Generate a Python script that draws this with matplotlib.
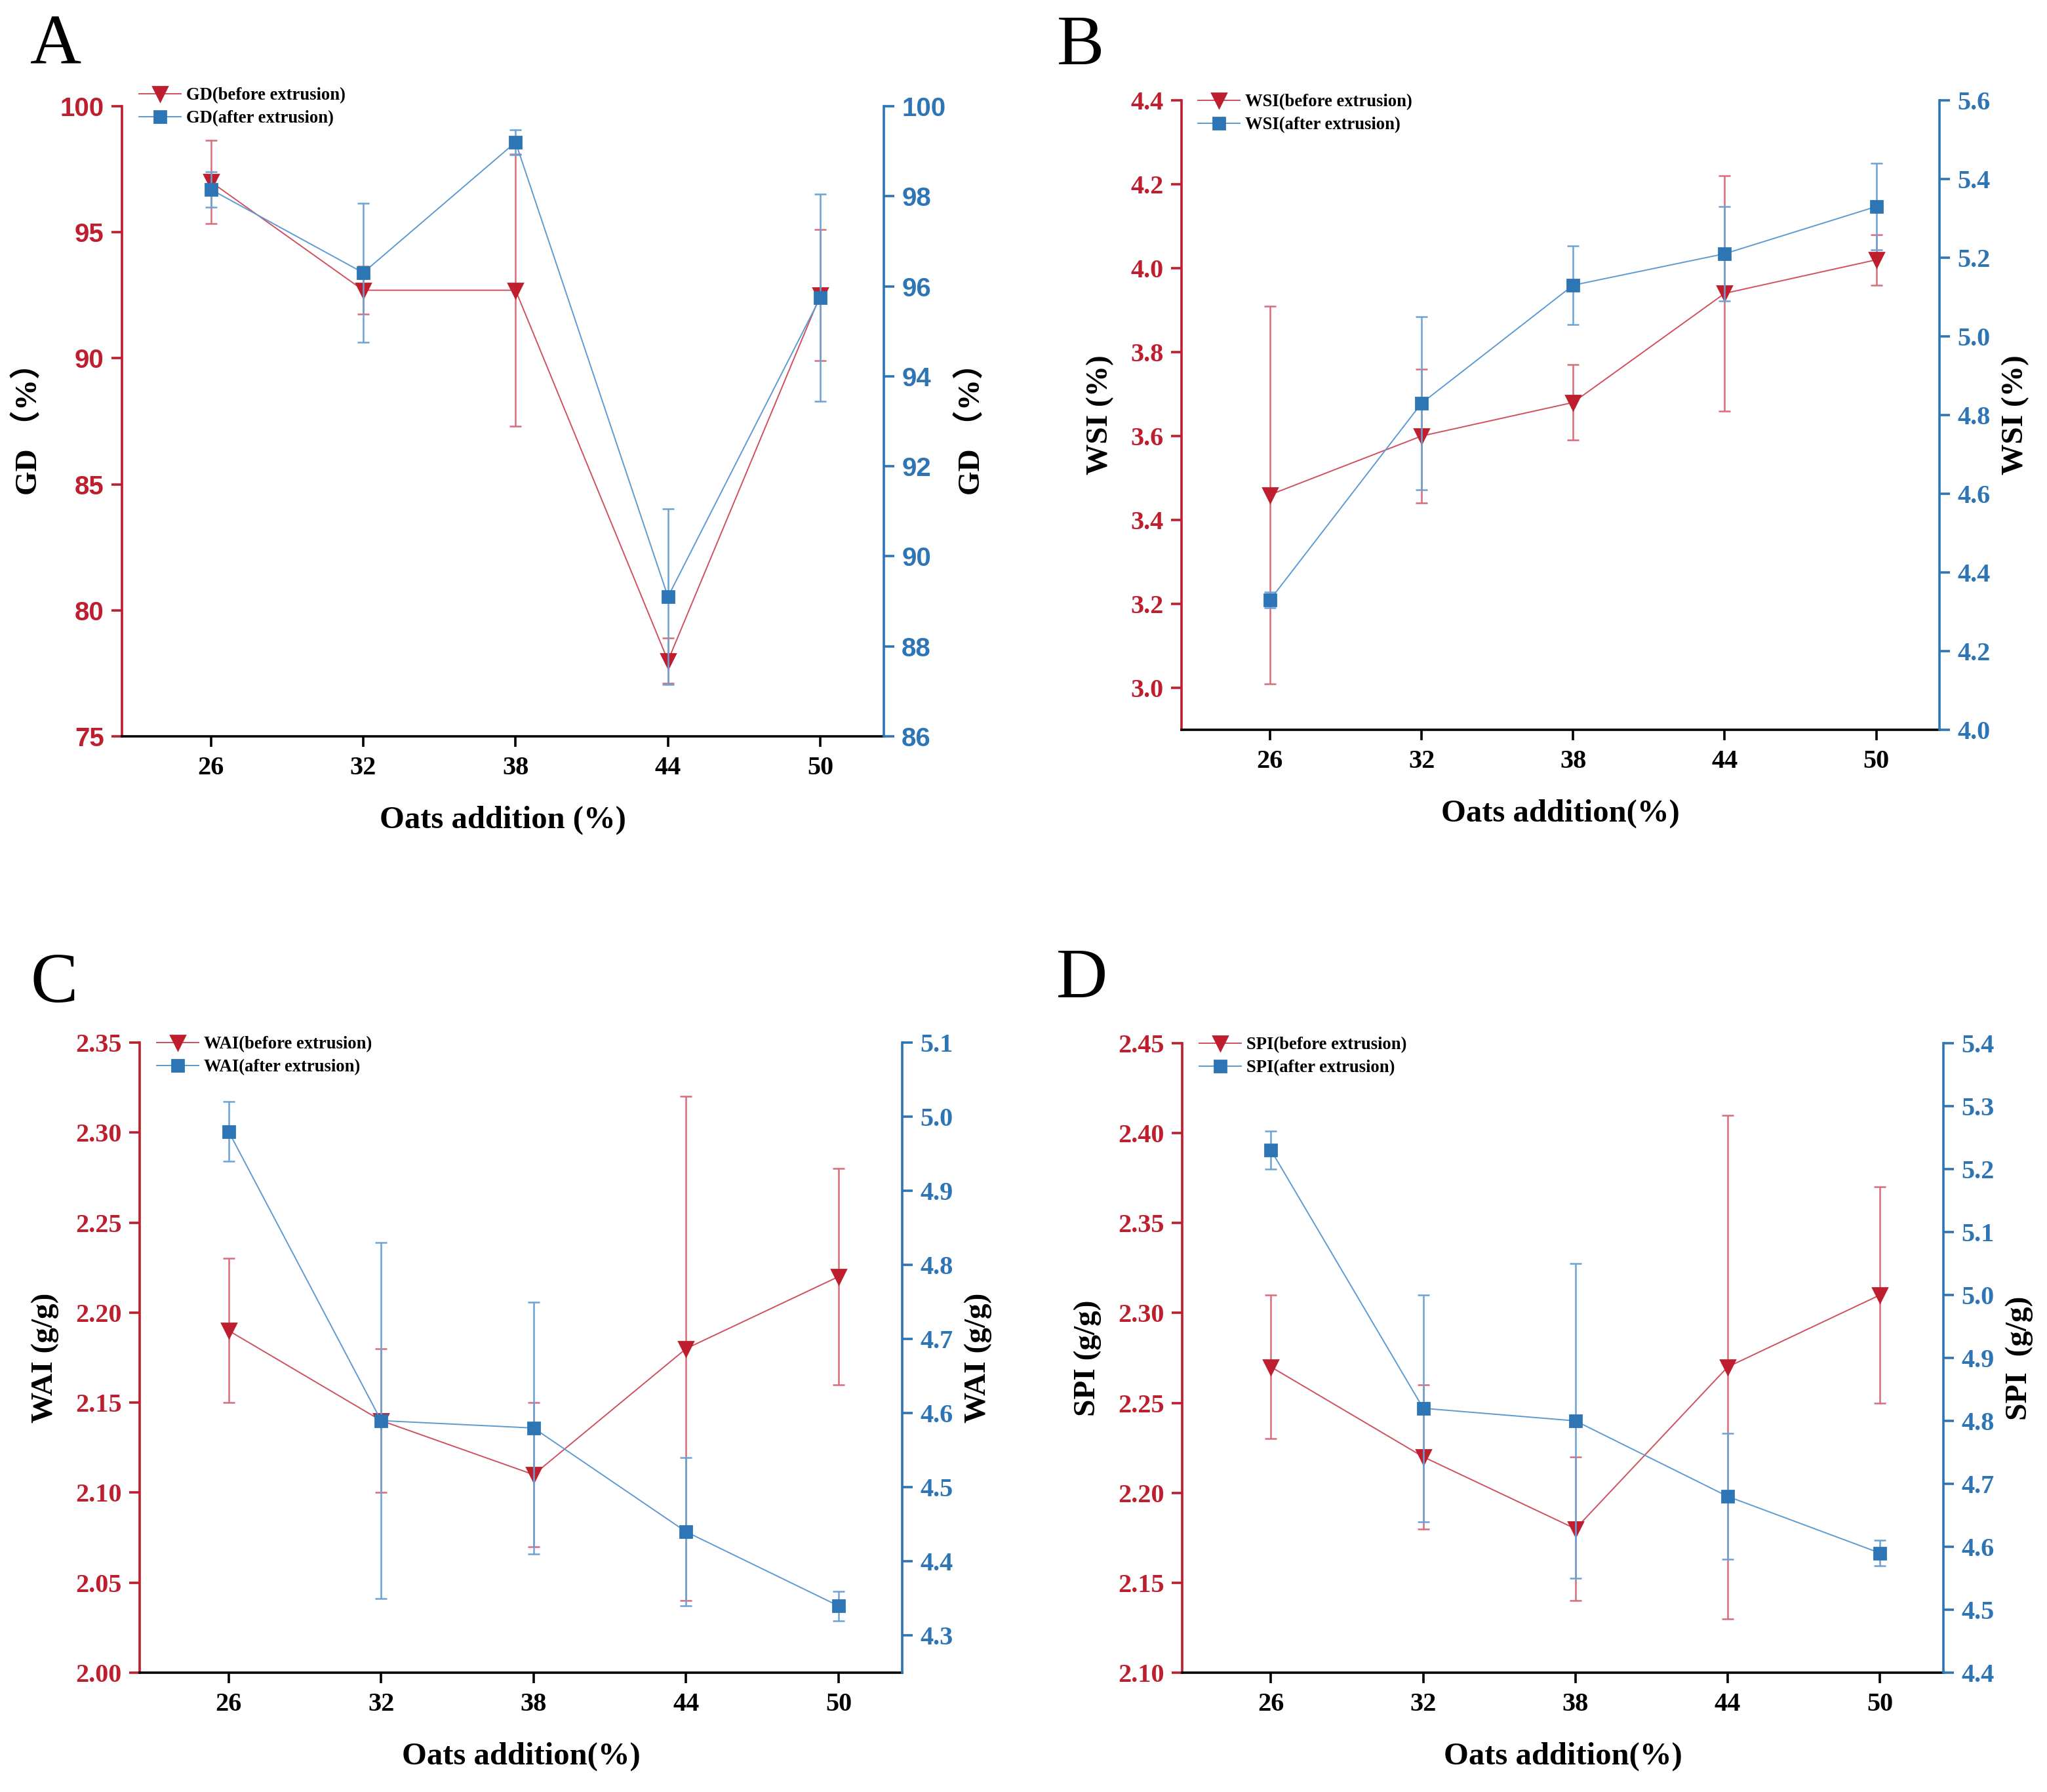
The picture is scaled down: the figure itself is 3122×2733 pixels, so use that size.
import numpy as np
import matplotlib
matplotlib.use("Agg")
import matplotlib.pyplot as plt
from matplotlib.ticker import FormatStrFormatter

# oats addition levels (%)
oats = [26, 32, 38, 44, 50]

# A: gelatinization degree
gd_before = [97.0, 92.7, 92.7, 78.0, 92.5]
gd_before_err = [1.65, 0.95, 5.4, 0.9, 2.6]
gd_after = [98.15, 96.3, 99.2, 89.1, 95.75]
gd_after_err = [0.4, 1.55, 0.28, 1.95, 2.3]

# B: water solubility index
wsi_before = [3.46, 3.60, 3.68, 3.94, 4.02]
wsi_before_err = [0.45, 0.16, 0.09, 0.28, 0.06]
wsi_after = [4.33, 4.83, 5.13, 5.21, 5.33]
wsi_after_err = [0.02, 0.22, 0.10, 0.12, 0.11]

# C: water absorption index
wai_before = [2.19, 2.14, 2.11, 2.18, 2.22]
wai_before_err = [0.04, 0.04, 0.04, 0.14, 0.06]
wai_after = [4.98, 4.59, 4.58, 4.44, 4.34]
wai_after_err = [0.04, 0.24, 0.17, 0.10, 0.02]

# D: swelling power index
spi_before = [2.27, 2.22, 2.18, 2.27, 2.31]
spi_before_err = [0.04, 0.04, 0.04, 0.14, 0.06]
spi_after = [5.23, 4.82, 4.80, 4.68, 4.59]
spi_after_err = [0.03, 0.18, 0.25, 0.10, 0.02]

RED = "#BE1E2D"
RED_LINE = "#D0505E"
RED_ERR = "#D96C78"
BLUE = "#2E75B6"
BLUE_LINE = "#5C9BD2"
BLUE_ERR = "#6AA3D6"

SERIF = ["Liberation Serif", "Noto Sans CJK SC", "DejaVu Serif"]
SANS = ["Liberation Sans", "DejaVu Sans"]

W, H = 3122, 2733
fig = plt.figure(figsize=(W / 200, H / 200), dpi=200)


def rect(left, top, right, bottom):
    return [left / W, 1 - bottom / H, (right - left) / W, (bottom - top) / H]


def panel(box, before, before_err, after, after_err, lim_l, ticks_l, lim_r, ticks_r,
          fmt_l, fmt_r, ylab_l, ylab_r, xlab, names, letter, letter_xy,
          tickfont_l=SERIF, tickfont_r=SERIF, leg_y=1.0):
    ax = fig.add_axes(box)
    ax2 = ax.twinx()

    ax.errorbar(oats, before, yerr=before_err, fmt="none", ecolor=RED_ERR,
                elinewidth=0.9, capsize=3.3, capthick=0.9)
    l1, = ax.plot(oats, before, "-v", color=RED_LINE, lw=0.7, ms=8.2,
                  mfc=RED, mec=RED, label=names[0])
    ax2.errorbar(oats, after, yerr=after_err, fmt="none", ecolor=BLUE_ERR,
                 elinewidth=0.9, capsize=3.3, capthick=0.9)
    l2, = ax2.plot(oats, after, "-s", color=BLUE_LINE, lw=0.7, ms=6.3,
                   mfc=BLUE, mec=BLUE, label=names[1])

    ax.set_xlim(22.5, 52.5)
    ax.set_xticks(oats)
    ax.set_ylim(*lim_l)
    ax.set_yticks(ticks_l)
    ax2.set_ylim(*lim_r)
    ax2.set_yticks(ticks_r)
    ax.yaxis.set_major_formatter(FormatStrFormatter(fmt_l))
    ax2.yaxis.set_major_formatter(FormatStrFormatter(fmt_r))

    for a in (ax, ax2):
        a.spines["top"].set_visible(False)
        for s in a.spines.values():
            s.set_linewidth(1.3)
    ax.spines["right"].set_visible(False)
    ax2.spines["left"].set_visible(False)
    ax2.spines["bottom"].set_visible(False)
    ax.spines["left"].set_color(RED)
    ax.spines["bottom"].set_color("black")
    ax2.spines["right"].set_color(BLUE)

    ax.tick_params(axis="y", colors=RED, length=5.8, width=1.3, pad=4)
    ax.tick_params(axis="x", colors="black", length=5.8, width=1.3, pad=5)
    ax2.tick_params(axis="y", colors=BLUE, length=5.8, width=1.3, pad=4)
    for t in ax.get_yticklabels():
        t.set_fontfamily(tickfont_l)
        t.set_fontweight("bold")
        t.set_fontsize(14.5)
    for t in ax2.get_yticklabels():
        t.set_fontfamily(tickfont_r)
        t.set_fontweight("bold")
        t.set_fontsize(14.5)
    for t in ax.get_xticklabels():
        t.set_fontfamily(SERIF)
        t.set_fontweight("bold")
        t.set_fontsize(14.5)

    ax.set_xlabel(xlab, family=SERIF, fontweight="bold", fontsize=17.5, labelpad=14)
    ax.set_ylabel(ylab_l, family=SERIF, fontweight="bold", fontsize=17, labelpad=9)
    ax2.set_ylabel(ylab_r, family=SERIF, fontweight="bold", fontsize=17, labelpad=6,
                   rotation=90)

    ax2.legend(handles=[l1, l2], loc="upper left", bbox_to_anchor=(0.022, leg_y),
               frameon=False, borderpad=0, borderaxespad=0, handlelength=2.4,
               handletextpad=0.3, labelspacing=0.38,
               prop={"family": SERIF, "weight": "bold", "size": 9.6})

    fig.text(letter_xy[0] / W, 1 - letter_xy[1] / H, letter, family=SERIF,
             fontsize=39, ha="center", va="baseline")
    return ax, ax2


panel(rect(186, 162, 1348, 1123), gd_before, gd_before_err, gd_after, gd_after_err,
      (75, 100), np.arange(75, 101, 5), (86, 100), np.arange(86, 101, 2),
      "%d", "%d", "GD （%）", "GD （%）", "Oats addition (%)",
      ["GD(before extrusion)", "GD(after extrusion)"], "A", (85, 96),
      tickfont_l=SANS, tickfont_r=SANS, leg_y=1.03)

panel(rect(1802, 153, 2958, 1113), wsi_before, wsi_before_err, wsi_after, wsi_after_err,
      (2.9, 4.4), np.round(np.arange(3.0, 4.41, 0.2), 1), (4.0, 5.6),
      np.round(np.arange(4.0, 5.61, 0.2), 1),
      "%.1f", "%.1f", "WSI (%)", "WSI (%)", "Oats addition(%)",
      ["WSI(before extrusion)", "WSI(after extrusion)"], "B", (1648, 98), leg_y=1.01)

panel(rect(213, 1590, 1376, 2551), wai_before, wai_before_err, wai_after, wai_after_err,
      (2.0, 2.35), np.round(np.arange(2.0, 2.351, 0.05), 2), (4.25, 5.1),
      np.round(np.arange(4.3, 5.11, 0.1), 1),
      "%.2f", "%.1f", "WAI (g/g)", "WAI (g/g)", "Oats addition(%)",
      ["WAI(before extrusion)", "WAI(after extrusion)"], "C", (83, 1528), leg_y=1.01)

panel(rect(1803, 1591, 2964, 2551), spi_before, spi_before_err, spi_after, spi_after_err,
      (2.1, 2.45), np.round(np.arange(2.1, 2.451, 0.05), 2), (4.4, 5.4),
      np.round(np.arange(4.4, 5.41, 0.1), 1),
      "%.2f", "%.1f", "SPI (g/g)", "SPI  (g/g)", "Oats addition(%)",
      ["SPI(before extrusion)", "SPI(after extrusion)"], "D", (1650, 1521), leg_y=1.01)

fig.savefig("out.png", dpi=200)
